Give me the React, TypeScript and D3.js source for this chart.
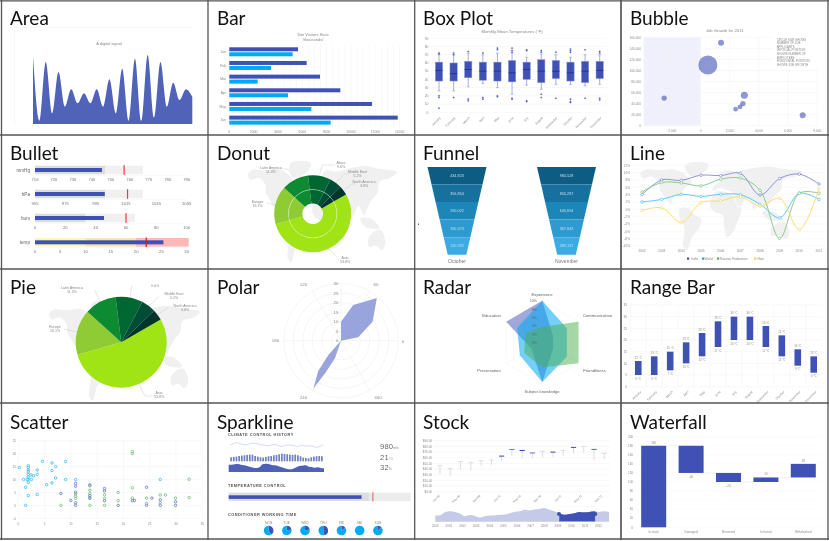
import React from "react";
import * as d3 from "d3";

const FONT = "'Liberation Sans', Arial, sans-serif";
const INDIGO = "#3f51b5";
const SKY = "#03a9f4";
const GREEN = "#4caf50";
const GRID = "#f3f3f6";
const TXT = "#8a8a8a";

const cellTitles = ["Area","Bar","Box Plot","Bubble","Bullet","Donut","Funnel","Line","Pie","Polar","Radar","Range Bar","Scatter","Sparkline","Stock","Waterfall"];
const months = ["January","February","March","April","May","June","July","August","September","October","November","December"];

const areaValues = [102,5,93,16,78,26,52,31,46,31,52,26,67,16,83,5,98,5,103.5,10,93,26,62,36,52,41];
const barCats = ["Jan","Feb","Mar","Apr","May","Jun"];
const barDark = [5644,6356,7452,9123,11726,13836];
const barLight = [5205,3425,2329,4822,6740,8329];

const boxLo = [26,26,31,35,30,22,33,28,34,34,32,34];
const boxQ1 = [38,38,42,39,38,37,40,36,41,38,36,41];
const boxMed = [51,47,52,50,50,48,52,50,50,48,50,51];
const boxQ3 = [61,60,62,61,61,63,61,64,63,61,62,62];
const boxHi = [70,70,72,70,72,72,67,71,70,67,70,70];
const boxOut = [[72,71,20,18,5],[72,70,18],[74,16,14],[72,18,16],[78,76,20,19],[78,75,73,17,16],[76,75,14,13],[75,73,22,18],[73,17],[77,75,73,16,13,12],[76,17],[74,72,17,15]];

const bubX = [1400,500,-2500,3000,2900,2700,2400,7000];
const bubY = [150000,110000,50000,55000,40000,34000,30000,19000];
const bubS = [10,100,8,13.6,8,6.4,5.9,10];
const bubNote = ["CIRCLE SIZE SHOWS","NUMBER OF JOB","APPLICANTS","VERTICAL POSITION","SHOWS NUMBER OF","EMPLOYEES","HORIZONTAL POSITION","SHOWS JOB GROWTH"];

const bulletLabels = ["mmHg","hPa","hum","temp"];
const bulletTicks = [[716,726,736,746,756,766,776,786,796],[955,975,995,1015,1035,1055],[0,20,40,60,80,100],[0,5,10,15,20,25,30]];
const bulletBar = [751.3,1001,45.5,25.4];
const bulletMark = [763,1016,60,22];
const bulletRanges = [[753,773],[1001.4,1026],[33,66],[10,20,30.4]];

const regions = ["Asia","Europe","Latin America","Africa","Middle East","North America"];
const regionShare = [53.8,16.1,11.3,9.6,5.2,3.8];
const regionColors = ["#a0e414","#8fcb34","#0a8a32","#016631","#024d36","#00342f"];

const funnelLevels = [0,1,2,3,4];
const funnelOct = ["434,823","356,854","290,022","190,374","120,392"];
const funnelNov = ["984,528","856,287","643,694","367,843","389,137"];
const funnelColors = ["#0f5c84","#17719f","#1f86b8","#2d9ad2","#3cabe3"];

const lineYears = [2002,2003,2004,2005,2006,2007,2008,2009,2010,2011];
const lineIndia = [4,8,7.9,9.3,9.2,9.8,3.9,8.4,9.6,6.9];
const lineWorld = [2,2.7,4.1,3.5,4.1,4.0,1.4,-2.3,4.4,2.7];
const lineRussia = [4.7,7.3,7.2,6.4,8.2,8.5,5.2,-7.9,4.4,4.4];
const lineHaiti = [-0.3,0.4,-3.6,1.8,2.3,3.4,0.9,3.0,-5.5,5.6];

const polarDeg = [0,11,31,50,71,90,0,228.5,233,240,244,251];
const polarR = [0,9.2,19.3,29.2,19.7,9.9,0,10,19.8,28.9,19,9.7];

const radarAxes = ["Experience","Communication","Friendliness","Subject knowledge","Presentation","Education"];
const radarA = [10,3,3,9.5,3,10];
const radarB = [10,6.8,6.8,9.5,6.2,7];
const radarC = [3.8,10,10,6,5,4.6];

const rangeLo = [5,5,7,10,13,17,20,20,17,13,9,6];
const rangeHi = [11,13,15,19,23,28,30,30,26,22,16,13];

const scatterBlueX = [0.2,1,1.4,1.4,1.9,1.9,1.9,1.9,1.9,1.9,1.9,1.9,1.9,1.7,2.4,2.9,2.5,3.6,3.6,3.6,4.6,5.4,6.4,6.4,6.4,7.1,7.1,9,9,10.9,27];
const scatterBlueY = [14.6,10,7,0,15.3,14.6,13.6,13,12,11,10,8.8,3.8,10,11.8,11.4,10,13.7,12,4.2,17,8,16.4,13.5,8.7,15,10.6,17,10,10,10];
const scatterGreenX = [21.7,21.7,21.7,21.7,8.1,10.9,10.9,10.9,13.6,13.6,13.6,13.6,13.6,16.4,16.4,16.4,19,19,24.4,24.4,27,27,28,29.9,32.5,32.5];
const scatterGreenY = [20.8,20,6.8,2.8,0,4.4,3.5,2.7,8,5.9,4.6,3.1,0,4.1,2.7,0,5,1.8,2.8,0.8,4,1,4,2.8,10.1,3];
const scatterIndigoX = [8.1,10,10.9,10.9,10.9,10.9,10.9,13.6,13.6,13.6,16.4,16.4,16.4,19,21.7,22.1,24.4,24.4,25.4,27,27,29.9,29.9];
const scatterIndigoY = [4.6,1.9,8.5,7.4,5.1,1,0,7.6,3.8,2.7,6.5,5.6,1.8,0,1.8,1.9,7,0,2.8,2.2,0,1.4,0];

const sparkLine = [7,11,15,12,9,8,11,13,12,10,8,6,5,8,9,6,3,6,8,7,5,3,7,6,4,5,3,0,4,8];
const sparkCols = [12,13,14,16,17,18,19,20,20,16,14,12,11,13,15,16,18,19,21,23,22,21,20,19,20,18,15,11,10,9,12,14,15,16,15];
const sparkArea = [22,22,23,24,22,20,18,15,13,12,14,23,25,24,21,20,18,15,12,9,8,10,14,18,19,20,16,15,13,14,12,11];
const sparkReadouts = ["980","21","32"];
const sparkUnits = ["mb","°C","%"];
const weekDays = ["MON","TUE","WED","THU","FRI","SAT","SUN"];
const weekDark = [0.42,0.22,0.22,0.46,0.15,0,0.15];

const stockHi = [46.2,40.9,53.3,51.5,55,56.2,63.9,75.2,74,69.3,71.6,71,73.4,79.3,80.5,75.8,68.1];
const stockLo = [30.8,28.4,39,37.9,46.2,46.8,53.9,63.4,59.8,59.2,61,61.6,63.9,68.1,69.3,56.2,57.4];
const stockBody = [0,0,0,0,0,0,1.6,1.2,1.8,1.2,0,1.6,0,1.6,0,1.4,0];
const stockLabels = ["Jan-09","May-09","Sep-09","Jan-10","May-10","Sep-10","Jan-11","May-11","Sep-11"];
const navValues = [10,10.5,16,17,16,13.5,9,11,9.5,7,9,10,10.5,11.5,12,14,16,17,19.5,18.5,20,21,22.5,19.5,17,14,11.5,12.5,14,16,15.5,16,17,16,17,16];
const navYears = [2000,2001,2002,2003,2004,2005,2006,2007,2008,2009,2010,2011,2012];

const fallCats = ["In stock","Damaged","Reserved","In transit","Refurbished"];
const fallStart = [0,180,120,100,110];
const fallEnd = [180,120,100,110,140];
const fallLabels = ["180","-60","-20","10","30"];

const continents: number[][][] = [
  [[-165,65],[-155,71],[-125,70],[-95,72],[-80,68],[-65,60],[-55,50],[-68,44],[-76,36],[-81,27],[-88,30],[-97,26],[-97,18],[-85,12],[-80,8],[-90,14],[-105,20],[-115,30],[-124,40],[-125,50],[-140,60],[-160,57]],
  [[-55,60],[-25,70],[-20,80],[-60,82],[-70,76]],
  [[-80,10],[-62,10],[-50,0],[-35,-7],[-40,-22],[-55,-35],[-65,-55],[-73,-50],[-71,-20],[-81,-5]],
  [[-17,15],[-10,30],[-5,36],[10,37],[32,31],[43,12],[51,12],[40,-15],[33,-27],[20,-35],[14,-20],[10,0],[-8,5]],
  [[-10,37],[-9,44],[0,50],[8,55],[5,60],[15,70],[40,68],[70,73],[110,76],[140,72],[180,68],[165,60],[140,55],[135,40],[122,30],[108,15],[105,9],[98,15],[90,22],[78,8],[70,22],[58,25],[52,15],[43,14],[35,32],[27,37],[15,40],[5,43]],
  [[114,-22],[130,-12],[142,-11],[153,-27],[145,-38],[130,-32],[116,-34]],
  [[95,5],[105,-6],[120,-9],[140,-8],[130,0],[118,5]],
];

const T = ({ x, y, s = 4, a = "middle", c = TXT, w, ls, rot, children }: any) => (
  <text x={x} y={y} fontSize={s} textAnchor={a} fill={c} fontFamily={FONT} fontWeight={w} letterSpacing={ls}
    transform={rot ? `rotate(${rot} ${x} ${y})` : undefined}>{children}</text>
);

const WorldMap = ({ x0, x1, y0, y1 }: any) => {
  const lon = d3.scaleLinear([-170, 180], [x0, x1]);
  const lat = d3.scaleLinear([80, -57], [y0, y1]);
  const line = d3.line<number[]>().x(d => lon(d[0])).y(d => lat(d[1])).curve(d3.curveCatmullRomClosed);
  return <g>{continents.map((c, i) => <path key={i} d={line(c) || ""} fill="#f0f0f0" />)}</g>;
};

const Area = () => {
  const x = d3.scaleLinear([0, areaValues.length - 1], [33, 192.3]);
  const y = d3.scaleLinear([0, 100], [124, 57.3]);
  const a = d3.area<number>().x((_, i) => x(i)).y0(y(0)).y1(d => y(d)).curve(d3.curveMonotoneX);
  return <g>
    <line x1={14} x2={193} y1={27.5} y2={27.5} stroke={GRID} strokeWidth={0.7} />
    <line x1={14.5} x2={14.5} y1={27} y2={125} stroke={GRID} strokeWidth={0.7} />
    <T x={109} y={44.5}>A digital signal</T>
    <path d={a(areaValues) || ""} fill="#5163b9" />
  </g>;
};

const Bar = () => {
  const x = d3.scaleLinear([0, 14000], [229.3, 399.7]);
  const y = d3.scaleBand(barCats, [45, 127]);
  return <g>
    <T x={313} y={35.5}>Site Visitors Stats</T>
    <T x={313} y={40.8}>/thousands/</T>
    {d3.range(0, 14001, 500).map(v => <line key={v} x1={x(v)} x2={x(v)} y1={45} y2={127} stroke={GRID} strokeWidth={0.5} />)}
    {barCats.map((c, i) => <g key={c}>
      <T x={226} y={y(c)! + 8} s={3.4} a="end">{c}</T>
      <rect x={x(0)} y={y(c)! + 2.3} width={x(barDark[i]) - x(0)} height={4} fill={INDIGO} />
      <rect x={x(0)} y={y(c)! + 7.3} width={x(barLight[i]) - x(0)} height={4} fill={SKY} />
    </g>)}
    {x.ticks(7).map(v => <T key={v} x={x(v)} y={132.5} s={3.4}>{v}</T>)}
  </g>;
};

const Box = () => {
  const x = d3.scaleBand(months, [431.7, 607]);
  const y = d3.scaleLinear([0, 90], [112.3, 38.3]);
  const w = 7.3;
  return <g>
    <T x={512} y={32.5} s={4.2}>Monthly Mean Temperatures (°F)</T>
    {y.ticks(9).map(v => <g key={v}>
      <line x1={431} x2={607} y1={y(v)} y2={y(v)} stroke={GRID} strokeWidth={0.6} />
      <T x={428.5} y={y(v) + 1.3} s={3.4} a="end">{v}</T>
    </g>)}
    {months.map((m, i) => {
      const c = x(m)! + x.bandwidth() / 2;
      return <g key={m}>
        <line x1={c} x2={c} y1={y(boxHi[i])} y2={y(boxLo[i])} stroke="#8f9ad8" strokeWidth={0.8} />
        <line x1={c - 1.5} x2={c + 1.5} y1={y(boxLo[i])} y2={y(boxLo[i])} stroke="#8f9ad8" strokeWidth={0.6} />
        <line x1={c - 1.5} x2={c + 1.5} y1={y(boxHi[i])} y2={y(boxHi[i])} stroke="#8f9ad8" strokeWidth={0.6} />
        <rect x={c - w / 2} y={y(boxQ3[i])} width={w} height={y(boxQ1[i]) - y(boxQ3[i])} fill={INDIGO} stroke="#8f9ad8" strokeWidth={0.5} />
        <line x1={c - w / 2} x2={c + w / 2} y1={y(boxMed[i])} y2={y(boxMed[i])} stroke="#1c2a70" strokeWidth={0.7} />
        {boxOut[i].map((v, k) => <circle key={k} cx={c} cy={y(v)} r={0.8} fill={INDIGO} stroke="#8f9ad8" strokeWidth={0.3} />)}
        <T x={c + 2} y={118} s={3.2} a="end" rot={-45}>{m}</T>
      </g>;
    })}
  </g>;
};

const Bubble = () => {
  const x = d3.scaleLinear([-3900, 8000], [643.7, 817.3]);
  const y = d3.scaleLinear([0, 160000], [125.7, 37.3]);
  const r = d3.scaleSqrt([0, 100], [0, 9.5]);
  const f = d3.format(",");
  return <g>
    <T x={724.7} y={31.5} s={4.2}>Job Growth for 2011</T>
    <rect x={x(-3900)} y={y(160000)} width={x(0) - x(-3900)} height={y(0) - y(160000)} fill="#eff0fb" />
    {y.ticks(8).map(v => <g key={v}>
      <line x1={643.7} x2={817.3} y1={y(v)} y2={y(v)} stroke={GRID} strokeWidth={0.6} />
      <T x={641} y={y(v) + 1.3} s={3.2} a="end">{f(v)}</T>
    </g>)}
    {x.ticks(6).filter(v => v > -3000).map(v => <g key={v}>
      <line x1={x(v)} x2={x(v)} y1={37} y2={125.7} stroke={GRID} strokeWidth={0.6} />
      <T x={x(v)} y={132} s={3.2}>{f(v)}</T>
    </g>)}
    {bubX.map((v, i) => <circle key={i} cx={x(v)} cy={y(bubY[i])} r={r(bubS[i])} fill={INDIGO} fillOpacity={0.6} />)}
    <rect x={773} y={36} width={45} height={31} fill="#fff" />
    {bubNote.map((t, i) => <T key={t} x={776.7} y={40.5 + i * 3.6} s={2.9} a="start">{t}</T>)}
  </g>;
};

const Bullet = () => {
  const x0 = 35, x1 = 186.7;
  const rowY = [170, 194, 218, 242.3];
  return <g>
    {bulletLabels.map((l, i) => {
      const t = bulletTicks[i];
      const x = d3.scaleLinear([t[0], t[t.length - 1]], [x0, x1]);
      const cy = rowY[i];
      const rs = bulletRanges[i];
      const fills = i === 3 ? ["#fdf6b6", "#fbe2ad", "#ffb8b8"] : ["#dcdcdc", "#f0f0f0"];
      let prev = t[0];
      return <g key={l}>
        <T x={30} y={cy + 1.7} s={4.6} a="end" c="#666">{l}</T>
        {rs.map((v, k) => { const r = <rect key={k} x={x(prev)} y={cy - 4.3} width={x(v) - x(prev)} height={8.6} fill={fills[k]} />; prev = v; return r; })}
        <rect x={x0} y={cy - 2} width={x(bulletBar[i]) - x0} height={4} fill={INDIGO} />
        <rect x={x(bulletMark[i]) - 0.6} y={cy - 4.8} width={1.2} height={9.6} fill={i === 3 ? "#c2202c" : "#f03a3a"} />
        <line x1={x0} x2={x1} y1={cy + 5.5} y2={cy + 5.5} stroke={GRID} strokeWidth={0.5} />
        {t.map(v => <T key={v} x={x(v)} y={cy + 10.7} s={4.2} c="#777">{v}</T>)}
      </g>;
    })}
  </g>;
};

const Leaders = ({ cx, cy, R, pie, layout }: any) => <g>
  {pie.map((p: any, i: number) => {
    const mid = (p.startAngle + p.endAngle) / 2;
    const sx = cx + Math.sin(mid) * R, sy = cy - Math.cos(mid) * R;
    const L = layout[i];
    const line = d3.line()([[sx, sy], [L[0], L[1]], [L[2], L[3]]]) || "";
    return <g key={i}>
      <path d={line} fill="none" stroke="#ccc" strokeWidth={0.5} />
      <T x={L[4]} y={L[5]} s={3.6}>{regions[i]}</T>
      <T x={L[4]} y={L[5] + 4.3} s={3.6}>{regionShare[i]}%</T>
    </g>;
  })}
</g>;

const pieAngles = d3.pie<number>().sort(null).startAngle(Math.PI / 3).endAngle(Math.PI / 3 + 2 * Math.PI)(regionShare);

const Donut = () => {
  const cx = 312.7, cy = 213.7;
  const arc1 = d3.arc<any>().innerRadius(24.2).outerRadius(38.5);
  const arc2 = d3.arc<any>().innerRadius(10.3).outerRadius(24.2);
  const layout = [
    [331.5, 251, 339, 260, 345, 258.5],
    [267, 203, 267, 203, 257.5, 202.5],
    [288, 169, 283, 169, 271, 168.5],
    [322, 165, 335, 165, 341, 164],
    [344, 174, 349, 174, 357.5, 173],
    [352, 184, 355, 184, 364, 183],
  ];
  return <g>
    <WorldMap x0={246} x1={397} y0={163} y1={264} />
    <g transform={`translate(${cx},${cy})`}>
      {pieAngles.map((p, i) => <g key={i}>
        <path d={arc1(p) || ""} fill={regionColors[i]} />
        <path d={arc2(p) || ""} fill={regionColors[i]} />
      </g>)}
      <circle r={24.2} fill="none" stroke="#fff" strokeOpacity={0.6} strokeWidth={0.6} />
    </g>
    <Leaders cx={cx} cy={cy} R={38.5} pie={pieAngles} layout={layout} />
  </g>;
};

const Funnel = () => {
  const y = d3.scaleLinear([0, 5], [167, 254.7]);
  const half = d3.scaleLinear([0, 5], [29.5, 9.3]);
  const cols = [{ c: 457, v: funnelOct, l: "October" }, { c: 566.5, v: funnelNov, l: "November" }];
  return <g>
    <rect x={418} y={223.7} width={1} height={1} fill="#111" />
    {cols.map(col => <g key={col.l}>
      {funnelLevels.map(i => <g key={i}>
        <path d={d3.line()([[col.c - half(i), y(i)], [col.c + half(i), y(i)], [col.c + half(i + 1), y(i + 1)], [col.c - half(i + 1), y(i + 1)]])! + "Z"} fill={funnelColors[i]} />
        <T x={col.c} y={(y(i) + y(i + 1)) / 2 + 1.4} s={3.8} c="#c8dfea">{col.v[i]}</T>
      </g>)}
      <T x={col.c} y={263} s={5} c="#777">{col.l}</T>
    </g>)}
  </g>;
};

const Line = () => {
  const x = d3.scaleLinear([2002, 2011], [642, 819]);
  const y = d3.scaleLinear([-10, 12], [246, 165.3]);
  const line = d3.line<number>().x((_, i) => x(lineYears[i])).y(d => y(d)).curve(d3.curveCatmullRom.alpha(0.5));
  const series = [
    { n: "India", v: lineIndia, c: "#7e89d2", k: INDIGO, lx: 687, tx: 691.3 },
    { n: "World", v: lineWorld, c: "#4dc3f7", k: SKY, lx: 702, tx: 704.5 },
    { n: "Russian Federation", v: lineRussia, c: "#7fc784", k: GREEN, lx: 717, tx: 719.8 },
    { n: "Haiti", v: lineHaiti, c: "#fdd867", k: "#fdd04a", lx: 754, tx: 757.5 },
  ];
  return <g>
    <WorldMap x0={638} x1={802} y0={164} y1={251} />
    {y.ticks(11).map(v => <g key={v}>
      <line x1={632} x2={827} y1={y(v)} y2={y(v)} stroke={GRID} strokeWidth={0.5} />
      <T x={630} y={y(v) + 1.3} s={3.2} a="end">{v}%</T>
    </g>)}
    {lineYears.map(v => <T key={v} x={x(v)} y={252} s={3.2}>{v}</T>)}
    {series.map(s => <g key={s.n}>
      <path d={line(s.v) || ""} fill="none" stroke={s.c} strokeWidth={0.9} />
      {s.v.map((v, i) => <circle key={i} cx={x(lineYears[i])} cy={y(v)} r={1.3} fill="#fff" stroke={s.c} strokeWidth={0.7} />)}
      <rect x={s.lx} y={257.5} width={2.2} height={2.2} fill={s.k} />
      <T x={s.tx} y={260} s={3.2} a="start">{s.n}</T>
    </g>)}
  </g>;
};

const Pie = () => {
  const cx = 121.2, cy = 342.2;
  const arc = d3.arc<any>().innerRadius(0).outerRadius(45.5);
  const layout = [
    [145, 396, 153, 396, 159, 394],
    [75.5, 331.5, 64, 329, 55, 328],
    [100, 301, 95, 290.5, 87, 290.5],
    [130, 296.5, 132, 285, 147, 285],
    [150, 305, 159, 296.5, 163, 296.5],
    [157, 315, 168, 307.5, 172, 307.5],
  ];
  const labelAt = [[159, 394], [55, 328], [72, 289], [155, 283], [174, 295], [185, 306.5]];
  return <g>
    <defs><clipPath id="pieClip"><rect x={0} y={284.2} width={208} height={120} /></clipPath></defs>
    <WorldMap x0={47} x1={200} y0={303} y1={402} />
    <g transform={`translate(${cx},${cy})`}>
      {pieAngles.map((p, i) => <path key={i} d={arc(p) || ""} fill={regionColors[i]} />)}
    </g>
    <g clipPath="url(#pieClip)">
      <Leaders cx={cx} cy={cy} R={45.5} pie={pieAngles} layout={layout.map((l, i) => [l[0], l[1], l[2], l[3], labelAt[i][0], labelAt[i][1]])} />
    </g>
  </g>;
};

const Polar = () => {
  const cx = 341, cy = 340.7;
  const r = d3.scaleLinear([0, 30], [0, 57.3]);
  const toA = (deg: number) => (90 - deg) * Math.PI / 180;
  const path = d3.lineRadial<number>().angle((_, i) => toA(polarDeg[i])).radius(d => r(d));
  const spokes = [0, 60, 120, 180, 240, 300];
  const lab = [[403, 343], [376, 285.5], [303.5, 285.5], [275.5, 342], [303.5, 399], [378, 399]];
  return <g>
    {r.ticks(6).filter(v => v > 0).map(v => <circle key={v} cx={cx} cy={cy} r={r(v)} fill="none" stroke="#efefef" strokeWidth={0.6} />)}
    {spokes.map((d, i) => <g key={d}>
      <line x1={cx} y1={cy} x2={cx + Math.cos(d * Math.PI / 180) * r(30)} y2={cy - Math.sin(d * Math.PI / 180) * r(30)} stroke="#efefef" strokeWidth={0.6} />
      <T x={lab[i][0]} y={lab[i][1]} s={4.4}>{d}</T>
    </g>)}
    <line x1={cx} x2={cx} y1={cy} y2={cy - r(30)} stroke="#efefef" strokeWidth={0.6} />
    {r.ticks(6).map(v => <T key={v} x={cx - 2.5} y={cy - r(v) + 1.6} s={4.4} a="end">{v}</T>)}
    <path transform={`translate(${cx},${cy})`} d={(path(polarR) || "") + "Z"} fill="#9aa4dc" />
  </g>;
};

const Radar = () => {
  const cx = 542.3, cy = 342.5;
  const r = d3.scaleLinear([0, 10], [0, 41.7]);
  const ang = (i: number) => i * Math.PI / 3;
  const poly = d3.lineRadial<number>().angle((_, i) => ang(i)).radius(d => r(d)).curve(d3.curveLinearClosed);
  const lab = [[542, 296], [597.5, 316.5], [594.5, 372], [542, 393], [489, 372], [491.5, 316.5]];
  return <g>
    {[2, 4, 6, 8, 10].map(v => <path key={v} transform={`translate(${cx},${cy})`} d={poly(radarAxes.map(() => v)) || ""} fill="none" stroke="#f0f0f0" strokeWidth={0.5} />)}
    {radarAxes.map((a, i) => <g key={a}>
      <line x1={cx} y1={cy} x2={cx + Math.sin(ang(i)) * r(10)} y2={cy - Math.cos(ang(i)) * r(10)} stroke="#f0f0f0" strokeWidth={0.5} />
      <T x={lab[i][0]} y={lab[i][1]} s={4.2} c="#666">{a}</T>
    </g>)}
    <g transform={`translate(${cx},${cy})`}>
      <path d={poly(radarA) || ""} fill={INDIGO} fillOpacity={0.5} />
      <path d={poly(radarB) || ""} fill={SKY} fillOpacity={0.55} />
      <path d={poly(radarC) || ""} fill={GREEN} fillOpacity={0.5} />
    </g>
    {[0, 2, 4, 6, 8, 10].map(v => <T key={v} x={537} y={cy - r(v) + 1.4} s={3.6} a="end" c="#666">{v}%</T>)}
  </g>;
};

const RangeBar = () => {
  const x = d3.scaleBand(months, [630.3, 821.7]);
  const y = d3.scaleLinear([0, 35], [386.7, 305]);
  return <g>
    {y.ticks(7).map(v => <g key={v}>
      <line x1={630} x2={822} y1={y(v)} y2={y(v)} stroke={GRID} strokeWidth={0.6} />
      <T x={627} y={y(v) + 1.3} s={3.2} a="end">{v}</T>
    </g>)}
    {months.map((m, i) => {
      const c = x(m)! + x.bandwidth() / 2;
      return <g key={m}>
        <line x1={x(m)!} x2={x(m)!} y1={305} y2={386.7} stroke={GRID} strokeWidth={0.6} />
        <rect x={c - 3.3} y={y(rangeHi[i])} width={6.6} height={y(rangeLo[i]) - y(rangeHi[i])} fill={INDIGO} />
        <T x={c} y={y(rangeHi[i]) - 2.5} s={2.8}>{rangeHi[i]} °C</T>
        <T x={c} y={y(rangeLo[i]) + 4.5} s={2.8}>{rangeLo[i]} °C</T>
        <T x={c + 3} y={392} s={3.2} a="end" rot={-45}>{m}</T>
      </g>;
    })}
  </g>;
};

const Scatter = () => {
  const x = d3.scaleLinear([0, 35], [18.3, 202.3]);
  const y = d3.scaleLinear([-5, 25], [518.3, 440.7]);
  const sets = [
    { xs: scatterBlueX, ys: scatterBlueY, c: "#29b6f6" },
    { xs: scatterGreenX, ys: scatterGreenY, c: "#66bb6a" },
    { xs: scatterIndigoX, ys: scatterIndigoY, c: "#5c6bc0" },
  ];
  return <g>
    {y.ticks(6).map(v => <g key={v}>
      <line x1={18} x2={202.3} y1={y(v)} y2={y(v)} stroke={GRID} strokeWidth={0.6} />
      <T x={16} y={y(v) + 1.2} s={3} a="end">{v}</T>
    </g>)}
    {x.ticks(7).map(v => <g key={v}>
      <line x1={x(v)} x2={x(v)} y1={440.7} y2={518.3} stroke={GRID} strokeWidth={0.6} />
      <T x={x(v)} y={524.5} s={3}>{v}</T>
    </g>)}
    {sets.map((s, k) => <g key={k}>{s.xs.map((v, i) => <circle key={i} cx={x(v)} cy={y(s.ys[i])} r={1.25} fill="#fff" fillOpacity={0.4} stroke={s.c} strokeWidth={0.75} />)}</g>)}
  </g>;
};

const Sparkline = () => {
  const lx = d3.scaleLinear([0, sparkLine.length - 1], [230, 323.3]);
  const ly = d3.scaleLinear([0, 15], [447.5, 442.5]);
  const l = d3.line<number>().x((_, i) => lx(i)).y(d => ly(d)).curve(d3.curveMonotoneX);
  const cx = d3.scaleBand(d3.range(sparkCols.length), [229.3, 323.7]).padding(0.35);
  const cy = d3.scaleLinear([0, 23], [461.3, 453.6]);
  const ax = d3.scaleLinear([0, sparkArea.length - 1], [228.7, 324]);
  const ay = d3.scaleLinear([0, 25], [472, 463.7]);
  const a = d3.area<number>().x((_, i) => ax(i)).y0(ay(0)).y1(d => ay(d)).curve(d3.curveMonotoneX);
  const bx = d3.scaleLinear([0, 100], [228.7, 410.7]);
  const px = d3.scaleBand(weekDays, [259.5, 387]);
  const pie = d3.pie<number>().sort(null);
  const arc = d3.arc<any>().innerRadius(0).outerRadius(4.8);
  const heads = [[435.5, "CLIMATE CONTROL HISTORY"], [487, "TEMPERATURE CONTROL"], [516.3, "CONDITIONER WORKING TIME"]] as [number, string][];
  return <g>
    {heads.map(([yy, t]) => <T key={t} x={228} y={yy} s={3.9} a="start" c="#555" w={700} ls={0.45}>{t}</T>)}
    <path d={l(sparkLine) || ""} fill="none" stroke="#b9c0e6" strokeWidth={0.6} />
    {sparkCols.map((v, i) => <rect key={i} x={cx(i)!} y={cy(v)} width={cx.bandwidth()} height={cy(0) - cy(v)} fill="#7380c9" />)}
    <path d={a(sparkArea) || ""} fill={"#4f60b8"} />
    {sparkReadouts.map((v, i) => <g key={v}>
      <text x={380} y={449 + i * 10.5} fontSize={7.6} fontFamily={FONT} fill="#666" letterSpacing={0.2}>{v}<tspan fontSize={3.6} fill="#888">{sparkUnits[i]}</tspan></text>
    </g>)}
    <rect x={bx(0)} y={492.7} width={bx(100) - bx(0)} height={8.3} fill="#ececec" />
    <rect x={bx(0)} y={492.7} width={bx(77) - bx(0)} height={8.3} fill="#dcdcdc" />
    <rect x={bx(0)} y={495.3} width={bx(73) - bx(0)} height={3.6} fill={INDIGO} />
    <rect x={bx(79.2) - 0.7} y={492.3} width={1.4} height={9} fill="#f27f7f" />
    {weekDays.map((d, i) => <g key={d}>
      <T x={px(d)! + px.bandwidth() / 2} y={524.3} s={3.2}>{d}</T>
      <g transform={`translate(${px(d)! + px.bandwidth() / 2},530.5)`}>
        {pie([weekDark[i], 1 - weekDark[i]]).map((p, k) => <path key={k} d={arc(p) || ""} fill={k === 0 ? INDIGO : SKY} />)}
      </g>
    </g>)}
  </g>;
};

const Stock = () => {
  const x = d3.scaleLinear([0, stockHi.length - 1], [440, 604.3]);
  const y = d3.scaleLinear([0, 90], [491.7, 441]);
  const fmt = d3.format("$.2f");
  const nx = d3.scaleLinear([0, navValues.length - 1], [435.3, 609]);
  const ny = d3.scaleLinear([0, 22.5], [521.7, 508]);
  const a = d3.area<number>().x((_, i) => nx(i)).y0(ny(0)).y1(d => ny(d)).curve(d3.curveMonotoneX);
  const yearX = d3.scaleLinear([2000, 2012], [435.3, 598.7]);
  const selA = 559, selB = 595.3;
  return <g>
    <defs><clipPath id="navSel"><rect x={selA} y={500} width={selB - selA} height={30} /></clipPath></defs>
    {y.ticks(9).map(v => <g key={v}>
      <line x1={433} x2={610} y1={y(v)} y2={y(v)} stroke={GRID} strokeWidth={0.6} />
      <T x={432} y={y(v) + 1.2} s={3} a="end">{fmt(v)}</T>
    </g>)}
    {stockHi.map((h, i) => <g key={i}>
      <line x1={x(i)} x2={x(i)} y1={y(h)} y2={y(stockLo[i])} stroke="#d5d5d8" strokeWidth={0.8} />
      <line x1={x(i) - 2.6} x2={x(i) + 2.6} y1={y(h)} y2={y(h)} stroke="#c4c4c8" strokeWidth={0.5} />
      {stockBody[i] > 0 && <rect x={x(i) - 2.6} y={y(h)} width={5.2} height={y(0) - y(stockBody[i])} fill={INDIGO} />}
    </g>)}
    {stockLabels.map((t, i) => <T key={t} x={439 + i * 20.3 + 1} y={496} s={3} a="end" rot={-45}>{t}</T>)}
    <path d={a(navValues) || ""} fill="#c5cae9" />
    <path d={a(navValues) || ""} fill={INDIGO} clipPath="url(#navSel)" />
    <rect x={selA} y={506.7} width={selB - selA} height={15} fill="none" stroke="#eee" strokeWidth={0.4} />
    <circle cx={selA} cy={514} r={2} fill={INDIGO} />
    <circle cx={selB} cy={514} r={2} fill={INDIGO} />
    {navYears.map(v => <T key={v} x={yearX(v)} y={527} s={3}>{v}</T>)}
  </g>;
};

const Waterfall = () => {
  const x = d3.scaleBand(fallCats, [635, 822]);
  const y = d3.scaleLinear([0, 200], [527.3, 436.7]);
  return <g>
    {y.ticks(10).map(v => <g key={v}>
      <line x1={632} x2={822} y1={y(v)} y2={y(v)} stroke="#f7f7f9" strokeWidth={0.5} />
      <T x={633} y={y(v) + 1.2} s={3} a="end">{v}</T>
    </g>)}
    {fallCats.map((c, i) => {
      const top = Math.max(fallStart[i], fallEnd[i]), bot = Math.min(fallStart[i], fallEnd[i]);
      const cx = x(c)! + x.bandwidth() / 2;
      const neg = fallEnd[i] < fallStart[i];
      return <g key={c}>
        <rect x={cx - 12.5} y={y(top)} width={25} height={y(bot) - y(top)} fill={INDIGO} />
        {i < fallCats.length - 1 && <line x1={cx + 12.5} x2={cx + x.bandwidth() - 12.5} y1={y(fallEnd[i])} y2={y(fallEnd[i])} stroke="#ddd" strokeWidth={0.4} />}
        <T x={cx} y={neg ? y(bot) + 5 : y(top) - 2} s={3}>{fallLabels[i]}</T>
        <T x={cx} y={533.3} s={3}>{c}</T>
      </g>;
    })}
  </g>;
};

const titlePos = { xs: [10, 217, 423, 630], ys: [25, 160, 294, 429] };
const dividerX = [1.5, 208, 414.7, 621, 828];
const dividerY = [0.8, 135, 269, 403, 539];

export default function App() {
  return (
    <svg width={829} height={541} viewBox="0 0 829 541" style={{ position: "absolute", left: 0, top: 0, display: "block", background: "#fff" }}>
      <defs><filter id="soft" x="0" y="0" width="100%" height="100%"><feGaussianBlur stdDeviation="0.3" /></filter></defs>
      <g filter="url(#soft)">
        <Area /><Bar /><Box /><Bubble />
        <Bullet /><Donut /><Funnel /><Line />
        <Pie /><Polar /><Radar /><RangeBar />
        <Scatter /><Sparkline /><Stock /><Waterfall />
      </g>
      {cellTitles.map((t, i) => (
        <text key={t} x={titlePos.xs[i % 4]} y={titlePos.ys[Math.floor(i / 4)]} fontSize={19} fontFamily="Lato, 'Noto Sans', sans-serif" fill="#111">{t}</text>
      ))}
      {dividerX.map((x, i) => <line key={i} x1={x} x2={x} y1={0} y2={540} stroke={i === 3 ? "#222" : "#555"} strokeWidth={1.3} />)}
      {dividerY.map((y, i) => <line key={i} x1={0} x2={829} y1={y} y2={y} stroke="#555" strokeWidth={1.3} />)}
    </svg>
  );
}
